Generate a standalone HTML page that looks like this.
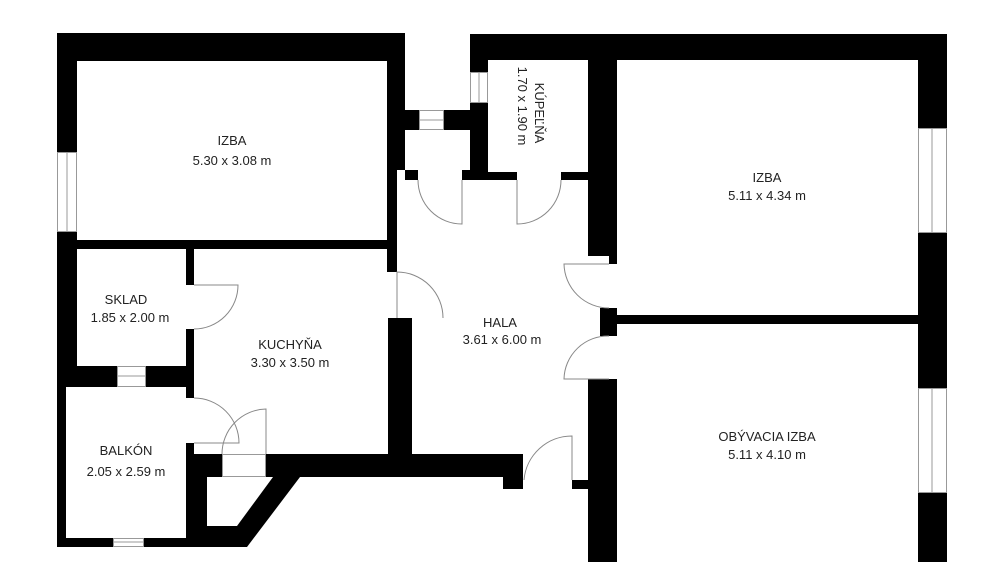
<!DOCTYPE html>
<html><head><meta charset="utf-8"><style>html,body{margin:0;padding:0;background:#fff}svg{display:block}</style></head>
<body>
<svg width="1002" height="562" viewBox="0 0 1002 562" xmlns="http://www.w3.org/2000/svg">
<rect width="1002" height="562" fill="#fff"/>
<g fill="#000">
<rect x="57" y="33" width="348" height="28"/>
<rect x="57" y="33" width="20" height="119"/>
<rect x="57" y="232" width="20" height="134"/>
<rect x="57" y="366" width="9" height="181"/>
<rect x="387" y="33" width="18" height="137"/>
<rect x="387" y="170" width="10" height="102"/>
<rect x="77" y="240" width="310" height="9"/>
<rect x="186" y="249" width="8" height="36"/>
<rect x="186" y="329" width="8" height="69"/>
<rect x="186" y="443" width="8" height="104"/>
<rect x="388" y="318" width="24" height="159"/>
<rect x="57" y="366" width="60" height="21"/>
<rect x="146" y="366" width="48" height="21"/>
<rect x="57" y="538" width="56" height="9"/>
<rect x="144" y="538" width="50" height="9"/>
<polygon points="186,454 222,454 222,477 266,477 266,454 412,454 412,477 300,477 247,547 186,547"/>
<rect x="405" y="110" width="14" height="20"/>
<rect x="444" y="110" width="26" height="20"/>
<rect x="405" y="170" width="13" height="10"/>
<rect x="462" y="170" width="26" height="10"/>
<rect x="470" y="34" width="477" height="26"/>
<rect x="470" y="34" width="18" height="38"/>
<rect x="470" y="103" width="18" height="77"/>
<rect x="488" y="172" width="29" height="8"/>
<rect x="561" y="172" width="27" height="8"/>
<rect x="588" y="34" width="29" height="222"/>
<rect x="609" y="256" width="8" height="8"/>
<rect x="600" y="308" width="17" height="28"/>
<rect x="617" y="315" width="301" height="9"/>
<rect x="588" y="379" width="29" height="183"/>
<rect x="918" y="34" width="29" height="94"/>
<rect x="918" y="233" width="29" height="155"/>
<rect x="918" y="493" width="29" height="69"/>
<rect x="412" y="454" width="91" height="23"/>
<rect x="503" y="454" width="20" height="35"/>
<rect x="572" y="480" width="16" height="9"/>
</g>
<polygon points="207,477 273,477 237,526 207,526" fill="#fff"/>
<g fill="#fff" stroke="#999" stroke-width="1">
<rect x="57.5" y="152.5" width="19" height="79"/><line x1="67" y1="152" x2="67" y2="232"/>
<rect x="117.5" y="366.5" width="28" height="20"/><line x1="117" y1="376" x2="146" y2="376"/>
<rect x="113.5" y="538.5" width="30" height="8"/><line x1="113" y1="542" x2="144" y2="542"/>
<rect x="419.5" y="110.5" width="24" height="19"/><line x1="419" y1="120" x2="444" y2="120"/>
<rect x="470.5" y="72.5" width="17" height="30"/><line x1="479" y1="72" x2="479" y2="103"/>
<rect x="918.5" y="128.5" width="28" height="104"/><line x1="932" y1="128" x2="932" y2="233"/>
<rect x="918.5" y="388.5" width="28" height="104"/><line x1="932" y1="388" x2="932" y2="493"/>
<rect x="222.5" y="454.5" width="43" height="22"/>
</g>
<g fill="none" stroke="#888" stroke-width="1">
<path d="M418,180 A44,44 0 0 0 462,224 L462,180"/>
<path d="M517,180 L517,224 A44,44 0 0 0 561,180"/>
<path d="M609,264 L564,264 A45,45 0 0 0 609,308"/>
<path d="M609,379 L564,379 A44,44 0 0 1 609,336"/>
<path d="M572,480 L572,436 A48,48 0 0 0 524,480"/>
<path d="M397,318 L397,272 A46,46 0 0 1 443,318"/>
<path d="M194,285 L238,285 A44,44 0 0 1 194,329"/>
<path d="M194,398 A45,45 0 0 1 239,443 L194,443"/>
<path d="M266,454 L266,409 A45,45 0 0 0 222,454"/>
</g>
<g font-family="Liberation Sans, sans-serif" font-size="13" fill="#222" text-anchor="middle">
<text x="232" y="145">IZBA</text><text x="232" y="165">5.30 x 3.08 m</text>
<text x="126" y="304">SKLAD</text><text x="130" y="322">1.85 x 2.00 m</text>
<text x="290" y="349">KUCHYŇA</text><text x="290" y="367">3.30 x 3.50 m</text>
<text x="500" y="327">HALA</text><text x="502" y="344">3.61 x 6.00 m</text>
<text x="126" y="455">BALKÓN</text><text x="126" y="476">2.05 x 2.59 m</text>
<text x="767" y="182">IZBA</text><text x="767" y="200">5.11 x 4.34 m</text>
<text x="767" y="441">OBÝVACIA IZBA</text><text x="767" y="459">5.11 x 4.10 m</text>
<text transform="translate(535,113) rotate(90)">KÚPEĽŇA</text>
<text transform="translate(518,106) rotate(90)">1.70 x 1.90 m</text>
</g>
</svg>
</body></html>
